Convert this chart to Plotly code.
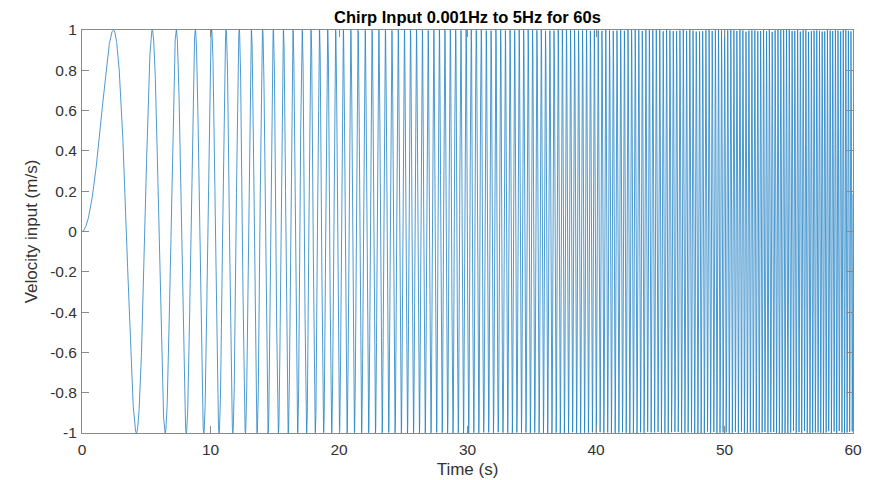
import numpy as np
import plotly.graph_objects as go

# Signal parameters
F0_HZ = 0.001
F1_HZ = 5.0
DURATION_S = 60.0
SAMPLE_RATE_HZ = 100.0

TITLE = "Chirp Input 0.001Hz to 5Hz for 60s"
X_LABEL = "Time (s)"
Y_LABEL = "Velocity input (m/s)"

X_TICKS = [0, 10, 20, 30, 40, 50, 60]
X_TICK_LABELS = ["0", "10", "20", "30", "40", "50", "60"]
Y_TICKS = [-1, -0.8, -0.6, -0.4, -0.2, 0, 0.2, 0.4, 0.6, 0.8, 1]
Y_TICK_LABELS = ["-1", "-0.8", "-0.6", "-0.4", "-0.2", "0", "0.2", "0.4", "0.6", "0.8", "1"]

# Linear chirp (swept sine) defined by the title's parameters
t = np.arange(0, DURATION_S + 1e-9, 1.0 / SAMPLE_RATE_HZ)
k = (F1_HZ - F0_HZ) / DURATION_S
v = np.sin(2 * np.pi * (F0_HZ * t + 0.5 * k * t ** 2))

FONT = "Liberation Sans, Arial, sans-serif"

fig = go.Figure()
fig.add_trace(go.Scatter(x=t, y=v, mode="lines",
                         line=dict(color="#1f80c4", width=0.8),
                         hoverinfo="skip", showlegend=False))

axis_common = dict(
    showline=True, linecolor="#8a8a8a", linewidth=1, mirror="ticks",
    ticks="inside", ticklen=7, tickcolor="#8a8a8a", tickwidth=1,
    showgrid=False, zeroline=False, automargin=False,
    tickfont=dict(family=FONT, size=15.5, color="#333333"),
)

fig.update_xaxes(range=[0, 60], tickvals=X_TICKS, ticktext=X_TICK_LABELS,
                 ticklabelstandoff=2,
                 title=dict(text=X_LABEL, standoff=6,
                            font=dict(family=FONT, size=17, color="#333333")),
                 **axis_common)
fig.update_yaxes(range=[-1, 1], tickvals=Y_TICKS, ticktext=Y_TICK_LABELS,
                 ticklabelstandoff=1,
                 title=dict(text=Y_LABEL, standoff=8,
                            font=dict(family=FONT, size=17, color="#333333")),
                 **axis_common)

fig.update_layout(
    width=866, height=472,
    margin=dict(l=74, r=21, t=22, b=47),
    paper_bgcolor="white", plot_bgcolor="white",
    title=dict(text="<b>" + TITLE + "</b>", x=0.5, xanchor="center",
               y=1 - 9 / 472, yanchor="middle", xref="paper",
               font=dict(family=FONT, size=16.5, color="#000000")),
)

fig.write_html("out.html")
